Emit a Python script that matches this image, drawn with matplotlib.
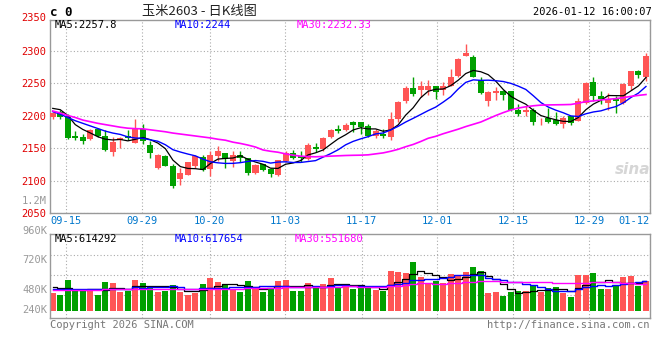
import matplotlib
matplotlib.use('Agg')
import matplotlib.pyplot as plt
import matplotlib.transforms as mtrans
import pandas as pd

W, H = 660, 360
MONO = 'DejaVu Sans Mono'
CJK = ['Noto Sans CJK SC', 'DejaVu Sans']

RED = '#ff5555'
GREEN = '#00a000'
GRID = '#aaaaaa'
FRAME = '#999999'

# daily candles, 2025-09-11 .. 2026-01-12
OPEN = [2198, 2206, 2200, 2168, 2167, 2164, 2179, 2169, 2144, 2162,
        2168, 2158, 2180, 2154, 2119, 2138, 2123, 2102, 2109, 2123,
        2136, 2117, 2137, 2142, 2130, 2140, 2134, 2111, 2125, 2118,
        2108, 2130, 2143, 2138, 2133, 2152, 2148, 2167, 2180, 2177,
        2190, 2190, 2184, 2168, 2172, 2167, 2194, 2223, 2243, 2239,
        2240, 2245, 2240, 2246, 2261, 2292, 2290, 2254, 2222, 2234,
        2237, 2237, 2209, 2206, 2209, 2191, 2196, 2193, 2187, 2199,
        2192, 2219, 2251, 2230, 2219, 2225, 2219, 2245, 2269, 2260]
HIGH = [2205, 2208, 2203, 2176, 2171, 2179, 2181, 2177, 2167, 2167,
        2177, 2194, 2187, 2161, 2141, 2140, 2125, 2119, 2128, 2140,
        2139, 2145, 2153, 2143, 2145, 2145, 2135, 2126, 2126, 2119,
        2132, 2146, 2147, 2145, 2158, 2158, 2167, 2179, 2186, 2189,
        2192, 2190, 2187, 2179, 2179, 2206, 2222, 2245, 2259, 2253,
        2255, 2246, 2252, 2271, 2288, 2310, 2293, 2259, 2237, 2244,
        2240, 2238, 2217, 2214, 2211, 2196, 2211, 2206, 2199, 2200,
        2227, 2251, 2259, 2237, 2235, 2230, 2250, 2268, 2270, 2296]
LOW = [2194, 2194, 2164, 2163, 2156, 2162, 2167, 2145, 2138, 2150,
       2162, 2157, 2156, 2135, 2118, 2122, 2089, 2093, 2108, 2120,
       2115, 2107, 2130, 2120, 2121, 2128, 2109, 2110, 2114, 2106,
       2107, 2128, 2133, 2128, 2132, 2144, 2146, 2166, 2173, 2176,
       2174, 2172, 2167, 2165, 2165, 2162, 2190, 2220, 2230, 2228,
       2232, 2225, 2231, 2245, 2260, 2291, 2259, 2233, 2214, 2224,
       2224, 2207, 2200, 2199, 2185, 2185, 2189, 2185, 2181, 2185,
       2191, 2218, 2223, 2217, 2209, 2204, 2218, 2240, 2257, 2253]
CLOSE = [2204, 2197, 2166, 2165, 2161, 2177, 2168, 2147, 2159, 2165,
         2166, 2180, 2161, 2142, 2139, 2123, 2092, 2111, 2128, 2137,
         2116, 2139, 2145, 2133, 2140, 2134, 2111, 2124, 2116, 2110,
         2132, 2143, 2134, 2134, 2154, 2148, 2165, 2177, 2176, 2186,
         2185, 2182, 2168, 2176, 2168, 2195, 2221, 2243, 2233, 2245,
         2245, 2236, 2245, 2259, 2287, 2296, 2260, 2235, 2236, 2237,
         2232, 2208, 2202, 2208, 2190, 2192, 2190, 2187, 2196, 2189,
         2223, 2250, 2230, 2225, 2226, 2222, 2249, 2268, 2263, 2291]
# volume, thousands of lots
VOLUME_K = [363, 328, 636, 410, 410, 431, 328, 595, 574, 390,
            410, 636, 574, 513, 390, 410, 533, 390, 328, 369,
            554, 677, 595, 554, 431, 390, 615, 472, 390, 472,
            615, 636, 410, 410, 574, 472, 554, 677, 472, 554,
            451, 499, 513, 431, 410, 820, 800, 779, 1005, 697,
            567, 622, 567, 759, 738, 800, 902, 820, 369, 390,
            308, 390, 410, 410, 513, 390, 465, 499, 376, 294,
            738, 738, 779, 451, 451, 533, 697, 718, 513, 615]

# moving averages need days before the window: heads
MA5_HEAD = [2211, 2209, 2200, 2186]
MA10_HEAD = [2206, 2202, 2197, 2192, 2188, 2184, 2180, 2176, 2173]
MA30 = [2207, 2204, 2200, 2197, 2193, 2190.5, 2188, 2186, 2184, 2182,
        2180.5, 2179.8, 2179.5, 2178, 2176.5, 2175, 2173, 2171.5, 2170, 2168.5,
        2167, 2165.5, 2163.5, 2162, 2159, 2157, 2154.5, 2151.5, 2147, 2145,
        2143.5, 2141, 2139, 2137.5, 2136.8, 2136.5, 2137, 2137.5, 2138, 2138.5,
        2138.8, 2139, 2139.5, 2141, 2142.5, 2145, 2148, 2152, 2155.5, 2160,
        2165, 2168, 2172, 2175.5, 2179, 2183, 2186.5, 2190, 2195, 2200,
        2204.5, 2208.5, 2211.5, 2213.5, 2215, 2216, 2216.3, 2216.5, 2216.7, 2217,
        2219, 2221.5, 2222.5, 2224, 2225, 2226, 2227.5, 2229.5, 2231, 2232.3]
VOL_MA5_HEAD = [486, 465, 478, 430]
VOL_MA10_HEAD = [455, 452, 458, 455, 450, 448, 445, 450, 455]
VOL_MA30_HEAD = [438, 438, 439, 439, 440, 440, 440, 441, 441, 442,
                 442, 443, 443, 444, 444, 445, 445, 446, 447, 448,
                 449, 451, 453, 455, 457, 460, 463, 466, 469]

XTICK_LABELS = ['09-15', '09-29', '10-20', '11-03', '11-17',
                '12-01', '12-15', '12-29', '01-12']
XTICK_POS = [1.73, 11.85, 20.88, 30.97, 41.12, 51.2, 61.3, 71.45, 79.47]
PRICE_TICKS = [2050, 2100, 2150, 2200, 2250, 2300]

LAST_MA = ('2257.8', '2244', '2232.33')
LAST_VOL_MA = ('614292', '617654', '551680')


def px(x, y):
    return x / W, 1 - y / H


def with_head(values, n, head):
    s = pd.Series(values, dtype=float).rolling(n).mean()
    s.iloc[:len(head)] = head
    return s


x = list(range(len(CLOSE)))
up = [c >= o for o, c in zip(OPEN, CLOSE)]
colors = [RED if u else GREEN for u in up]

ma5 = with_head(CLOSE, 5, MA5_HEAD)
ma10 = with_head(CLOSE, 10, MA10_HEAD)
vma5 = with_head(VOLUME_K, 5, VOL_MA5_HEAD)
vma10 = with_head(VOLUME_K, 10, VOL_MA10_HEAD)
vma30 = with_head(VOLUME_K, 30, VOL_MA30_HEAD)

fig = plt.figure(figsize=(W / 100, H / 100), dpi=100)
fig.patch.set_facecolor('white')

L, R = 50.5, 649.5
ax = fig.add_axes([L / W, (H - 213) / H, (R - L) / W, (213 - 20) / H])
axv = fig.add_axes([L / W, (H - 318) / H, (R - L) / W, (318 - 234) / H])

for a in (ax, axv):
    for sp in a.spines.values():
        sp.set_color(FRAME)
        sp.set_linewidth(1)
    a.set_xlim(-0.3, 79.47)
    a.set_xticks(XTICK_POS)
    a.tick_params(length=0)
    a.grid(True, linestyle=(0, (1, 2)), color=GRID, linewidth=0.8)
    a.set_axisbelow(True)

# price panel
bottoms = [min(o, c) for o, c in zip(OPEN, CLOSE)]
heights = [max(abs(c - o), 1.2) for o, c in zip(OPEN, CLOSE)]
ax.vlines(x, LOW, HIGH, colors=colors, linewidth=1, zorder=2)
ax.bar(x, heights, bottom=bottoms, width=0.8, color=colors, linewidth=0, zorder=3)
ax.plot(x, ma5, color='black', linewidth=0.9, zorder=4)
ax.plot(x, ma10, color='#0000ff', linewidth=1, zorder=4)
ax.plot(x, MA30, color='#ff00ff', linewidth=1.2, zorder=4)

ax.set_ylim(2050, 2347)
ax.set_yticks(PRICE_TICKS)
ax.set_yticklabels([str(v) for v in PRICE_TICKS], family=MONO, fontsize=7.5, color='#e00000')
ax.tick_params(axis='y', pad=3)
ax.set_xticklabels(XTICK_LABELS, family=MONO, fontsize=7.5, color='#0077cc')
ax.tick_params(axis='x', pad=2)
ax.get_xticklabels()[-1].set_ha('right')

trans = mtrans.blended_transform_factory(ax.transAxes, ax.transData)
ax.text(-0.0075, 2350, '2350', transform=trans, ha='right', va='center',
        family=MONO, fontsize=7.5, color='#e00000', clip_on=False)

# volume panel
vscale = 20.5  # thousand lots per pixel
axv.bar(x, VOLUME_K, width=0.8, color=colors, linewidth=0, zorder=2)
axv.plot(x, vma5, color='black', linewidth=0.9, drawstyle='steps-mid', zorder=3)
axv.plot(x, vma10, color='#0000ff', linewidth=1, drawstyle='steps-mid', zorder=3)
axv.plot(x, vma30, color='#ff00ff', linewidth=1, drawstyle='steps-mid', zorder=3)
axv.set_ylim(-7 * vscale, 77 * vscale)
axv.set_yticks([(311 - yy) * vscale for yy in (255, 275, 295)])
axv.set_yticklabels([])
axv.set_xticklabels([])

# left labels of the volume panel
for txt, yy in (('1.2M', 201), ('960K', 231), ('720K', 260), ('480K', 290), ('240K', 310)):
    fig.text(*px(47, yy), txt, ha='right', va='center', family=MONO, fontsize=7.5, color=FRAME)

# MA captions
for (name, col, xx), val in zip((('MA5', 'black', 55), ('MA10', '#0000ff', 175),
                                 ('MA30', '#ff00ff', 297)), LAST_MA):
    fig.text(*px(xx, 25), f'{name}:{val}', ha='left', va='center', family=MONO,
             fontsize=7.5, color=col)
for (name, col, xx), val in zip((('MA5', 'black', 55), ('MA10', '#0000ff', 175),
                                 ('MA30', '#ff00ff', 295)), LAST_VOL_MA):
    fig.text(*px(xx, 239), f'{name}:{val}', ha='left', va='center', family=MONO,
             fontsize=7.5, color=col)

# header
fig.text(*px(50, 12), 'c 0', ha='left', va='center', family=MONO, fontsize=9,
         fontweight='bold', color='black')
fig.text(*px(142, 12), '玉米2603 - 日K线图', ha='left', va='center', family=CJK,
         fontsize=9.5, color='#222222')
fig.text(*px(652, 12), '2026-01-12 16:00:07', ha='right', va='center', family=MONO,
         fontsize=7.5, color='black')

# footer
fig.text(*px(50, 325), 'Copyright 2026 SINA.COM', ha='left', va='center', family=MONO,
         fontsize=7.5, color='#777777')
fig.text(*px(650, 325), 'http://finance.sina.com.cn', ha='right', va='center', family=MONO,
         fontsize=7.5, color='#777777')

# watermark
fig.text(*px(633, 170), 'sina', ha='center', va='center', fontsize=11, style='italic',
         fontweight='bold', color='#d6d6d6')

fig.savefig('out.png', dpi=100)
